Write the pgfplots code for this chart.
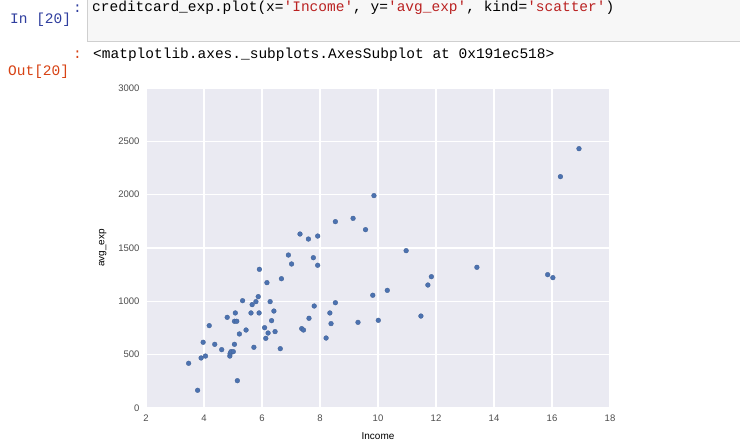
\documentclass[border=0pt]{standalone}
\usepackage{pgfplots}
\pgfplotsset{compat=1.18}
\usepackage{fontspec}
\setmainfont{Liberation Sans}
\setmonofont{Liberation Mono}
\definecolor{sbbg}{HTML}{EAEAF2}
\definecolor{sbblue}{HTML}{4C72B0}
\definecolor{txtgray}{HTML}{4D4D4D}
\definecolor{prompin}{HTML}{303F9F}
\definecolor{prompout}{HTML}{D84315}
\definecolor{strred}{HTML}{BA2121}
\definecolor{cellbg}{HTML}{F7F7F7}
\definecolor{cellbd}{HTML}{CFCFCF}
\begin{document}
\begin{tikzpicture}[x=1bp,y=1bp]
\useasboundingbox (0,0) rectangle (740,444);
\fill[white] (0,0) rectangle (740,444);
% code cell
\filldraw[fill=cellbg,draw=cellbd,line width=1bp] (87,402) rectangle (745,450);
\node[anchor=west,inner sep=0pt,font=\ttfamily\fontsize{14.5bp}{17bp}\selectfont] at (92,436)
 {creditcard\_exp.plot(x=\textcolor{strred}{'Income'}, y=\textcolor{strred}{'avg\_exp'}, kind=\textcolor{strred}{'scatter'})};
\node[anchor=west,inner sep=0pt,font=\ttfamily\fontsize{14.5bp}{17bp}\selectfont,text=prompin] at (73,435) {:};
\node[anchor=west,inner sep=0pt,font=\ttfamily\fontsize{14.5bp}{17bp}\selectfont,text=prompin] at (10,424) {In [20]};
\node[anchor=west,inner sep=0pt,font=\ttfamily\fontsize{14.5bp}{17bp}\selectfont,text=prompout] at (73,389) {:};
\node[anchor=west,inner sep=0pt,font=\ttfamily\fontsize{14.5bp}{17bp}\selectfont,text=prompout] at (8,372) {Out[20]};
\node[anchor=west,inner sep=0pt,font=\ttfamily\fontsize{14.5bp}{17bp}\selectfont] at (93,389)
 {<matplotlib.axes.\_subplots.AxesSubplot at 0x191ec518>};
\begin{axis}[
  at={(146bp,36bp)}, anchor=south west,
  scale only axis, width=464bp, height=320bp,
  xmin=2, xmax=18, ymin=0, ymax=3000,
  xtick={2,4,...,18}, ytick={0,500,...,3000},
  axis background/.style={fill=sbbg},
  axis line style={draw=none},
  major tick length=0pt,
  grid=major,
  major grid style={white,line width=1.2bp},
  /pgf/number format/assume math mode=true,
  /pgf/number format/1000 sep={},
  ticklabel style={font=\fontsize{9.5bp}{11bp}\selectfont,text=txtgray},
  xticklabel style={yshift=-3bp},
  yticklabel style={xshift=-3bp},
  label style={font=\fontsize{11bp}{13bp}\selectfont,text=txtgray},
  xlabel={Income}, ylabel={avg\_exp},
  every axis x label/.style={at={(axis description cs:0.5,-0.0875)},anchor=center},
  every axis y label/.style={at={(axis description cs:-0.093,0.5)},rotate=90,anchor=center},
]
\addplot[only marks, mark=*, mark size=2.4bp, mark options={fill=sbblue,draw=sbblue!85!black,line width=0.3bp}] coordinates {
(3.47,419) (3.78,166) (3.90,469) (3.97,616) (4.05,487) (4.18,772) (4.37,597) (4.61,547)
(4.80,850) (4.89,487) (4.90,509) (4.93,528) (5.01,528) (5.05,597) (5.05,813) (5.08,891)
(5.13,813) (5.15,256) (5.22,694) (5.33,1006) (5.45,731) (5.62,891) (5.66,969) (5.72,569)
(5.79,997) (5.87,1044) (5.90,891) (5.91,1300) (6.09,753) (6.13,653) (6.17,1175) (6.21,703)
(6.28,997) (6.33,819) (6.41,909) (6.45,716) (6.63,556) (6.67,1212) (6.91,1434) (7.02,1350)
(7.31,1631) (7.37,744) (7.43,731) (7.60,1584) (7.62,841) (7.77,1409) (7.80,956) (7.92,1338)
(7.92,1612) (8.21,656) (8.34,891) (8.38,791) (8.53,987) (8.53,1747) (9.14,1778) (9.31,803)
(9.57,1672) (9.82,1057) (9.86,1991) (10.01,822) (10.32,1103) (10.97,1475) (11.48,862)
(11.72,1153) (11.84,1231) (13.41,1319) (15.85,1250) (16.03,1222) (16.29,2169) (16.93,2431)
};
\end{axis}
\end{tikzpicture}
\end{document}
